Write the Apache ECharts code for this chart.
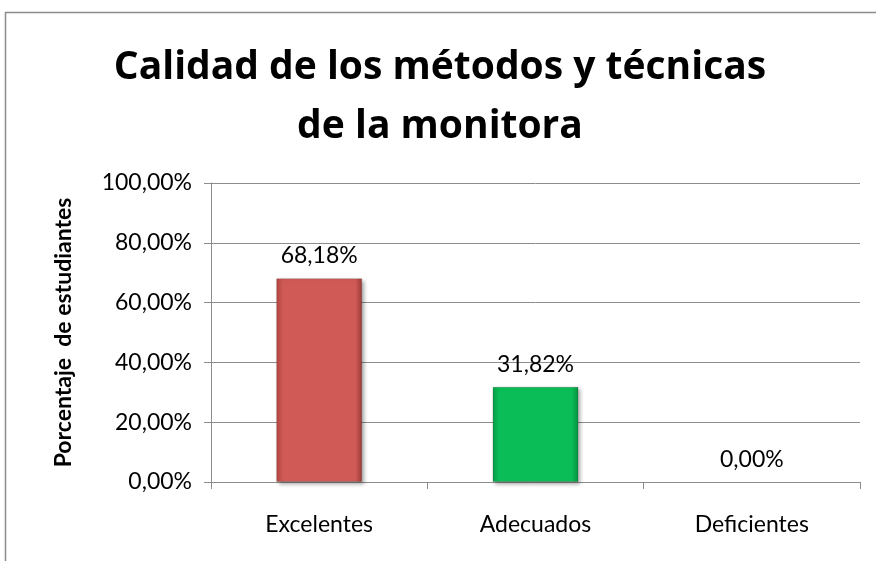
<!DOCTYPE html>
<html><head><meta charset="utf-8">
<script src="https://cdn.jsdelivr.net/npm/echarts@6/dist/echarts.min.js"></script>
<style>html,body{margin:0;padding:0;background:#fff}#c{width:876px;height:561px}</style>
</head><body><div id="c"></div>
<script>
var categories = ['Excelentes', 'Adecuados', 'Deficientes'];
var values = [68.18, 31.82, 0.00];
var yTicks = [0, 20, 40, 60, 80, 100];
var titleText = 'Calidad de los métodos y técnicas\nde la monitora';
var yName = 'Porcentaje  de estudiantes';

function fmt(v){ return v.toFixed(2).replace('.', ',') + '%'; }
var barColors = [
  new echarts.graphic.LinearGradient(0,0,1,0,[{offset:0,color:'#b24642'},{offset:0.08,color:'#cf5a56'},{offset:0.92,color:'#cf5a56'},{offset:1,color:'#9c3a37'}]),
  new echarts.graphic.LinearGradient(0,0,1,0,[{offset:0,color:'#05a049'},{offset:0.08,color:'#0abd57'},{offset:0.92,color:'#0abd57'},{offset:1,color:'#04913f'}]),
  '#4f81bd'
];
var chart = echarts.init(document.getElementById('c'), null, {renderer:'canvas'});
var font = 'Lato, "Open Sans", "DejaVu Sans", sans-serif';
chart.setOption({
  animation:false,
  backgroundColor:'#fff',
  graphic:[{type:'rect',shape:{x:5.5,y:12.5,width:880,height:560},style:{fill:'none',stroke:'#8c8c8c',lineWidth:1.5},silent:true}],
  title:{text:titleText,left:435,textAlign:'center',top:33,textStyle:{fontFamily:'"Open Sans", Lato, sans-serif',fontWeight:'bold',fontSize:39,lineHeight:59,color:'#000'}},
  grid:{left:211,right:16,top:183,bottom:79,containLabel:false},
  xAxis:{type:'category',data:categories,
    axisLine:{lineStyle:{color:'#8c8c8c',width:1}},
    axisTick:{show:true,length:7,lineStyle:{color:'#8c8c8c'}},
    axisLabel:{margin:31,fontSize:23,color:'#000',fontFamily:font}},
  yAxis:{type:'value',min:0,max:100,interval:20,
    name:yName,nameLocation:'middle',nameGap:136,nameRotate:90,
    nameTextStyle:{fontSize:23,fontWeight:'bold',color:'#000',fontFamily:font},
    axisLine:{show:true,lineStyle:{color:'#8c8c8c'}},
    axisTick:{show:true,length:7,lineStyle:{color:'#8c8c8c'}},
    splitLine:{lineStyle:{color:'#8c8c8c',width:1}},
    axisLabel:{margin:19,fontSize:23,color:'#000',fontFamily:font,formatter:function(v){return fmt(v);}}},
  series:[{type:'bar',barWidth:86,
    data:values.map(function(v,i){
      if (v === 0) return {value:v,itemStyle:{color:'rgba(0,0,0,0)'}};
      return {value:v,itemStyle:{color:barColors[i],borderColor:'rgba(0,0,0,0.15)',borderWidth:1,shadowColor:'rgba(0,0,0,0.35)',shadowBlur:4,shadowOffsetX:2,shadowOffsetY:2}};}),
    label:{show:true,position:'top',distance:11,fontSize:23,color:'#000',fontFamily:font,formatter:function(p){return fmt(p.value);}}}]
});
</script></body></html>
